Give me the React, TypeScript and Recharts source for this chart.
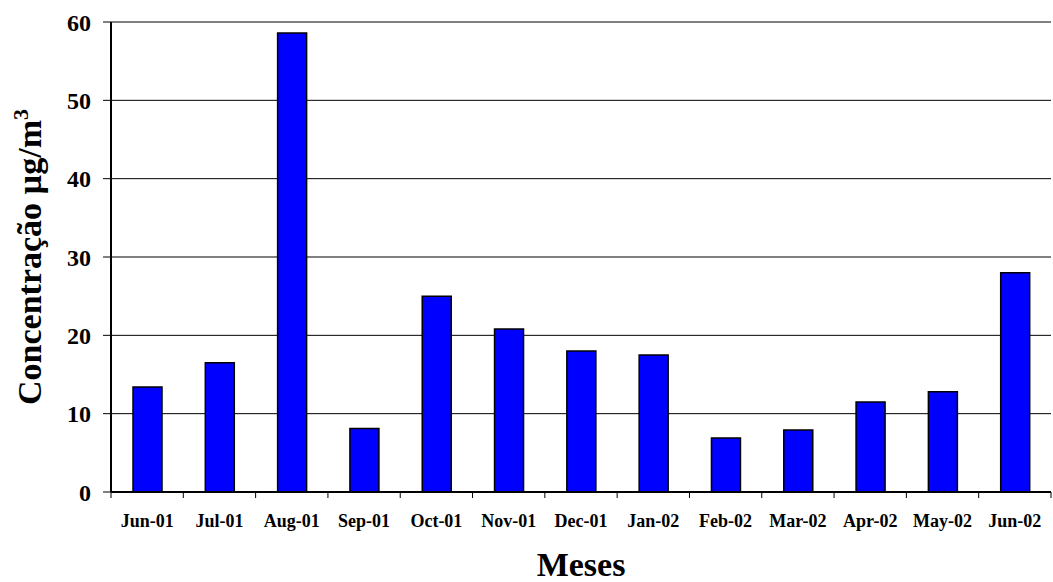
import { BarChart, Bar, XAxis, YAxis, CartesianGrid } from 'recharts';

const months = [
  'Jun-01', 'Jul-01', 'Aug-01', 'Sep-01', 'Oct-01', 'Nov-01', 'Dec-01',
  'Jan-02', 'Feb-02', 'Mar-02', 'Apr-02', 'May-02', 'Jun-02',
];
const concentration = [13.4, 16.5, 58.6, 8.1, 25.0, 20.8, 18.0, 17.5, 6.9, 7.9, 11.5, 12.8, 28.0];
const yTicks = [0, 10, 20, 30, 40, 50, 60];

const data = months.map((month, i) => ({ month, value: concentration[i] }));

const CHART_W = 1053;
const CHART_H = 582;
const Y_AXIS_W = 111;
const MARGIN_RIGHT = 2;
const FONT = '"Liberation Serif", "Times New Roman", serif';

const band = (CHART_W - MARGIN_RIGHT - Y_AXIS_W) / months.length;

const MonthTick = (props: any) => {
  const { x, y, payload, index } = props;
  const axisY = y - 17 - 6;
  const left = x - band / 2;
  const right = x + band / 2;
  return (
    <g>
      <line x1={left} x2={left} y1={axisY} y2={axisY + 6} stroke="#000" />
      {index === months.length - 1 && (
        <line x1={right} x2={right} y1={axisY} y2={axisY + 6} stroke="#000" />
      )}
      <text
        x={x}
        y={y}
        dy={12}
        textAnchor="middle"
        fontFamily={FONT}
        fontWeight="bold"
        fontSize={18}
        fill="#000"
      >
        {payload.value}
      </text>
    </g>
  );
};

const YTitle = (props: any) => {
  const { viewBox } = props;
  const cx = viewBox.x + 41;
  const cy = viewBox.y + viewBox.height / 2;
  return (
    <text
      x={cx}
      y={cy}
      transform={`rotate(-90 ${cx} ${cy})`}
      textAnchor="middle"
      fontFamily={FONT}
      fontWeight="bold"
      fontSize={34}
      fill="#000"
    >
      Concentração µg/m
      <tspan dy={-13} fontSize={22}>3</tspan>
    </text>
  );
};

export default function App() {
  return (
    <div style={{ position: 'absolute', left: 0, top: 0, background: '#fff' }}>
      <BarChart
        width={CHART_W}
        height={CHART_H}
        data={data}
        margin={{ top: 22, right: MARGIN_RIGHT, left: 0, bottom: 0 }}
      >
        <CartesianGrid horizontal vertical={false} stroke="#000" strokeWidth={1} />
        <XAxis
          dataKey="month"
          height={90}
          tickLine={false}
          tickSize={6}
          tickMargin={17}
          tick={<MonthTick />}
          interval={0}
          axisLine={{ stroke: '#000', strokeWidth: 2 }}
          label={{
            value: 'Meses',
            position: 'insideBottom',
            offset: 6,
            fontFamily: FONT,
            fontWeight: 'bold',
            fontSize: 34,
            fill: '#000',
          }}
        />
        <YAxis
          width={Y_AXIS_W}
          domain={[0, 60]}
          ticks={yTicks}
          interval={0}
          tickSize={8}
          tickMargin={12}
          tickLine={{ stroke: '#000' }}
          axisLine={{ stroke: '#000', strokeWidth: 2 }}
          tick={{ fontFamily: FONT, fontWeight: 'bold', fontSize: 24, fill: '#000' }}
          label={<YTitle />}
        />
        <YAxis
          yAxisId="right"
          orientation="right"
          width={0}
          domain={[0, 60]}
          tick={false}
          tickLine={false}
          axisLine={{ stroke: '#000', strokeWidth: 1 }}
        />
        <Bar
          dataKey="value"
          fill="#0000FF"
          stroke="#000"
          strokeWidth={1.5}
          barSize={29}
          isAnimationActive={false}
        />
      </BarChart>
    </div>
  );
}
